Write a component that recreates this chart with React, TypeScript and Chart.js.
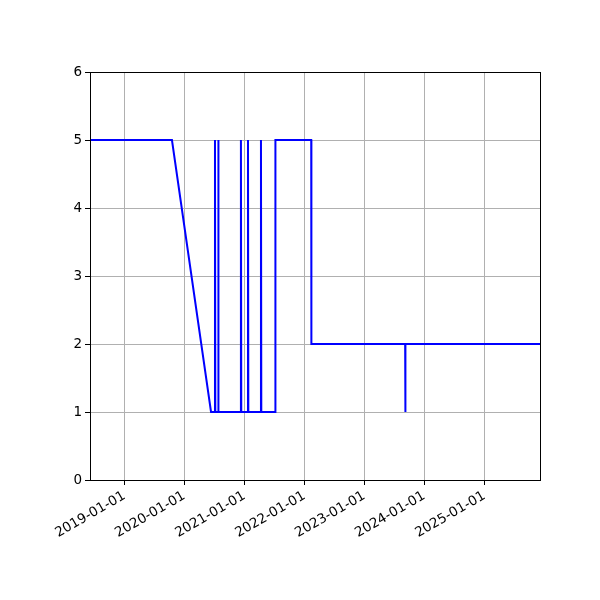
import { useEffect, useRef } from "react";
import { Chart, registerables } from "chart.js";
import type { Plugin } from "chart.js";

Chart.register(...registerables);

// step series
const dates = [
  "2018-06-06",
  "2019-10-18",
  "2020-06-12",
  "2020-07-05",
  "2020-07-06",
  "2020-07-08",
  "2020-07-25",
  "2020-07-26",
  "2020-07-28",
  "2020-12-10",
  "2020-12-11",
  "2020-12-13",
  "2021-01-22",
  "2021-01-23",
  "2021-01-25",
  "2021-04-11",
  "2021-04-12",
  "2021-04-14",
  "2021-07-08",
  "2021-07-09",
  "2022-02-12",
  "2022-02-13",
  "2023-09-07",
  "2023-09-08",
  "2023-09-09",
  "2025-12-06",
];
const values = [5, 5, 1, 1, 5, 1, 1, 5, 1, 1, 5, 1, 1, 5, 1, 1, 5, 1, 1, 5, 5, 2, 2, 1, 2, 2];

const tickLabels = [
  "2019-01-01",
  "2020-01-01",
  "2021-01-01",
  "2022-01-01",
  "2023-01-01",
  "2024-01-01",
  "2025-01-01",
];
const xStart = "2018-06-06";
const xEnd = "2025-12-06";
const yMin = 0;
const yMax = 6;

const toMs = (s: string) => new Date(s + "T00:00:00Z").getTime();

function fmt(ms: number): string {
  const d = new Date(ms);
  const m = String(d.getUTCMonth() + 1).padStart(2, "0");
  const day = String(d.getUTCDate()).padStart(2, "0");
  return `${d.getUTCFullYear()}-${m}-${day}`;
}

// matplotlib draws a full box round the axes
const frame: Plugin = {
  id: "frame",
  afterDraw(chart) {
    const { ctx, chartArea } = chart;
    ctx.save();
    ctx.strokeStyle = "#000";
    ctx.lineWidth = 1;
    ctx.strokeRect(
      Math.round(chartArea.left) + 0.5,
      Math.round(chartArea.top) + 0.5,
      Math.round(chartArea.right - chartArea.left),
      Math.round(chartArea.bottom - chartArea.top),
    );
    ctx.restore();
  },
};

export default function App(): JSX.Element {
  const canvasRef = useRef<HTMLCanvasElement | null>(null);

  useEffect(() => {
    document.body.style.margin = "0";
    const canvas = canvasRef.current;
    if (!canvas) {
      return;
    }

    const font = { family: "DejaVu Sans", size: 13.5 };

    const chart = new Chart(canvas, {
      type: "line",
      data: {
        datasets: [
          {
            data: dates.map((d, i) => ({ x: toMs(d), y: values[i] })),
            borderColor: "#0000ff",
            borderWidth: 2,
            pointRadius: 0,
            tension: 0,
            fill: false,
          },
        ],
      },
      options: {
        animation: false,
        responsive: false,
        devicePixelRatio: 1,
        layout: { padding: { left: 60, top: 72, right: 60, bottom: 0 } },
        plugins: { legend: { display: false }, tooltip: { enabled: false } },
        scales: {
          x: {
            type: "linear",
            min: toMs(xStart),
            max: toMs(xEnd),
            afterBuildTicks: (scale) => {
              scale.ticks = tickLabels.map((t) => ({ value: toMs(t) }));
            },
            afterFit: (scale) => {
              scale.height = 120;
            },
            ticks: {
              autoSkip: false,
              minRotation: 30,
              maxRotation: 30,
              color: "#000",
              font,
              padding: 3,
              callback: (v) => fmt(Number(v)),
            },
            grid: {
              color: "#b0b0b0",
              lineWidth: 1,
              tickColor: "#000",
              tickLength: 5,
            },
            border: { color: "#000", width: 1 },
          },
          y: {
            min: yMin,
            max: yMax,
            afterFit: (scale) => {
              scale.width = 30;
            },
            ticks: {
              stepSize: 1,
              color: "#000",
              font,
              padding: 3,
            },
            grid: {
              color: "#b0b0b0",
              lineWidth: 1,
              tickColor: "#000",
              tickLength: 5,
            },
            border: { color: "#000", width: 1 },
          },
        },
      },
      plugins: [frame],
    });

    return () => {
      chart.destroy();
    };
  }, []);

  return (
    <div style={{ width: 600, height: 600, background: "#fff" }}>
      <canvas ref={canvasRef} width={600} height={600} />
    </div>
  );
}
